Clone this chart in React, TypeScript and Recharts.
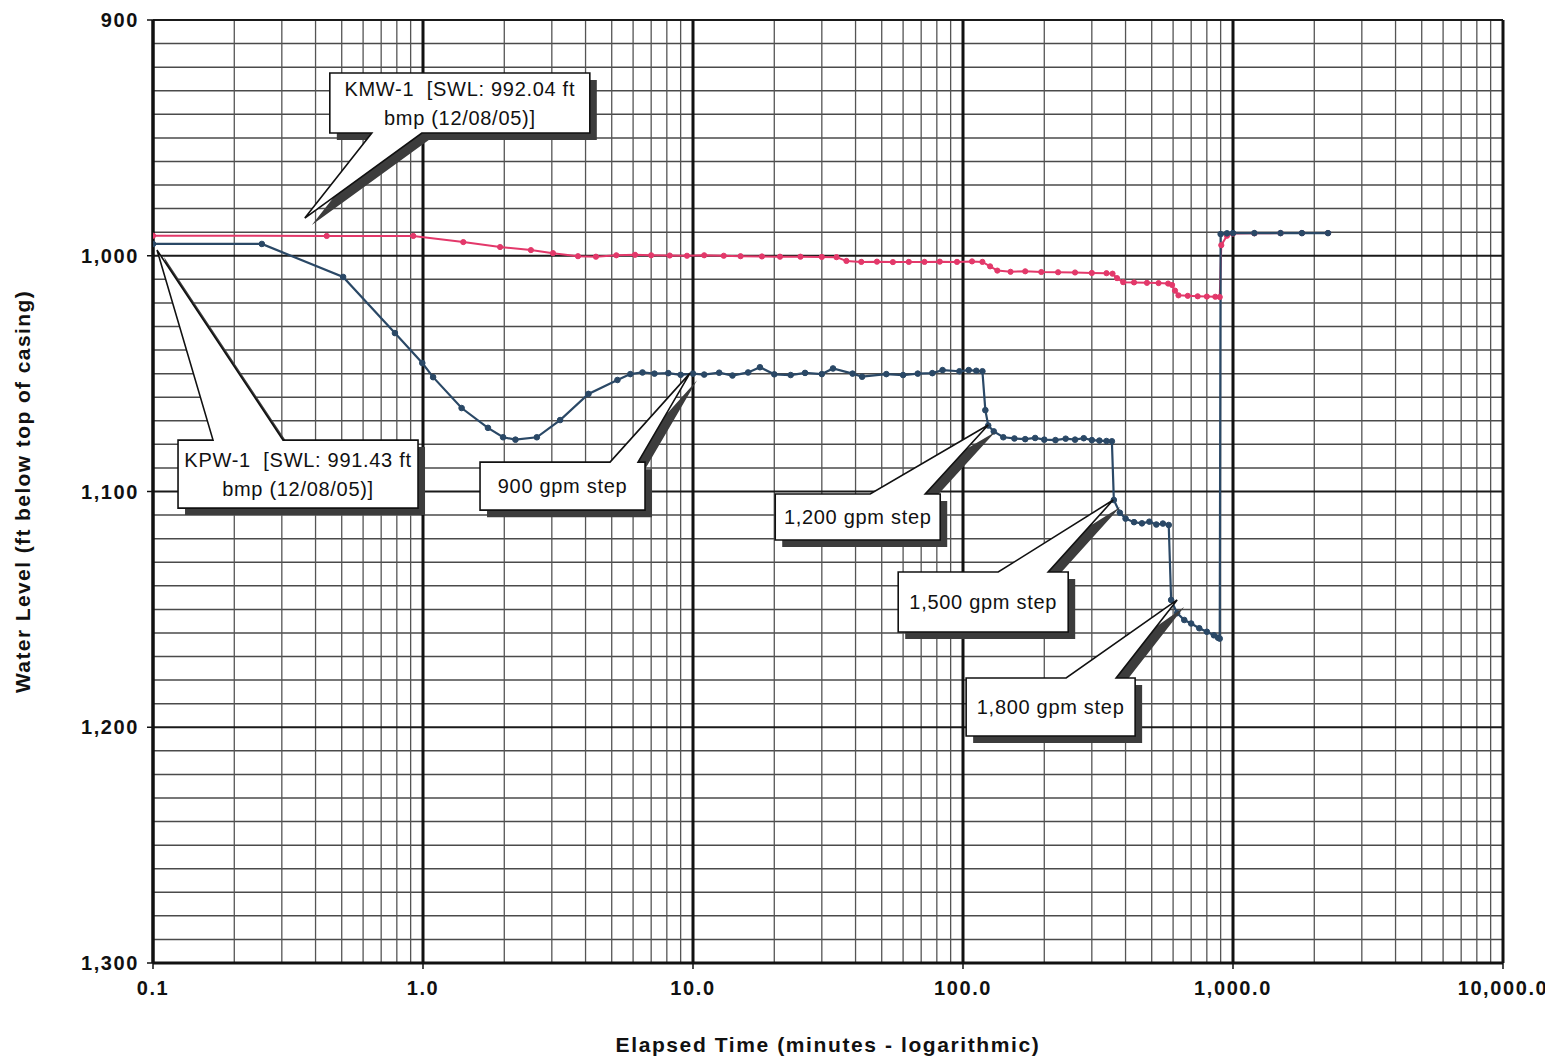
import React from 'react';
import { LineChart, Line, XAxis, YAxis, ReferenceLine, ReferenceDot, Label } from 'recharts';

// ---- Data ----
const KMW_T = [0.1, 0.44, 0.92, 1.41, 1.93, 2.51, 3.03, 3.75, 4.37, 5.2, 6.1, 7.0, 8.2, 9.5, 11, 13, 15, 18, 21, 25, 30, 34, 37, 42, 48, 55, 63, 72, 82, 95, 108, 118, 126, 134, 150, 170, 195, 225, 260, 300, 340, 358, 372, 392, 430, 480, 530, 575, 595, 610, 628, 680, 740, 800, 860, 893, 905, 950, 1000, 1200, 1500, 1800, 2248];
const KMW_LEVEL = [991.5, 991.6, 991.6, 994.2, 996.3, 997.6, 998.9, 1000.2, 1000.4, 999.8, 999.6, 999.8, 999.9, 1000, 999.8, 1000, 1000.2, 1000.3, 1000.4, 1000.4, 1000.5, 1000.6, 1002.2, 1002.6, 1002.5, 1002.7, 1002.6, 1002.6, 1002.5, 1002.6, 1002.4, 1002.6, 1004.5, 1006.3, 1006.8, 1006.6, 1006.9, 1007, 1007.1, 1007.3, 1007.4, 1007.6, 1009.5, 1011.2, 1011.3, 1011.5, 1011.6, 1011.8, 1012.4, 1014.8, 1016.8, 1017, 1017.2, 1017.3, 1017.4, 1017.5, 995.5, 991.5, 990.6, 990.5, 990.4, 990.4, 990.4];

const KPW_T = [0.1, 0.253, 0.506, 0.787, 0.994, 1.09, 1.39, 1.74, 1.98, 2.2, 2.64, 3.22, 4.1, 5.25, 5.86, 6.5, 7.2, 8.1, 9.0, 10, 11, 12.5, 14, 16, 17.7, 20, 23, 26, 30, 33, 39, 42.3, 52, 60, 68, 77, 84, 97, 105, 112, 118, 121, 124, 130, 141, 155, 170, 185, 200, 220, 240, 260, 280, 300, 320, 340, 356, 362, 381, 400, 430, 460, 490, 520, 550, 578, 590, 621, 660, 700, 750, 800, 850, 880, 893, 900, 950, 1000, 1200, 1500, 1800, 2248];
const KPW_LEVEL = [995.0, 995.0, 1009.0, 1032.8, 1045.5, 1051.5, 1064.6, 1073, 1077, 1078, 1077, 1069.7, 1058.6, 1052.7, 1050.2, 1049.5, 1050, 1049.8, 1050.5, 1050, 1050.4, 1049.6, 1050.8, 1049.5, 1047.3, 1050.3, 1050.6, 1049.7, 1050.2, 1047.8, 1050, 1051.3, 1050.2, 1050.6, 1050, 1049.8, 1048.5, 1049, 1048.5, 1048.8, 1049, 1065.5, 1072, 1074.5, 1077, 1077.5, 1077.8, 1077.3, 1078, 1078.2, 1077.6, 1078, 1077.4, 1078.2, 1078.4, 1078.6, 1078.7, 1103.6, 1109, 1111.5, 1113, 1113.5, 1112.8, 1114, 1113.6, 1114.2, 1146, 1151.6, 1154.5, 1156, 1158, 1159.5, 1161, 1162, 1162.4, 990.8, 990.5, 990.4, 990.4, 990.4, 990.4, 990.4];

const X_TICKS = [0.1, 1, 10, 100, 1000, 10000];
const X_TICK_LABELS = ['0.1', '1.0', '10.0', '100.0', '1,000.0', '10,000.0'];
const Y_TICKS = [900, 1000, 1100, 1200, 1300];
const Y_TICK_LABELS = ['900', '1,000', '1,100', '1,200', '1,300'];
const MINOR_X = [0.2, 0.3, 0.4, 0.5, 0.6, 0.7, 0.8, 0.9, 2, 3, 4, 5, 6, 7, 8, 9, 20, 30, 40, 50, 60, 70, 80, 90, 200, 300, 400, 500, 600, 700, 800, 900, 2000, 3000, 4000, 5000, 6000, 7000, 8000, 9000];
const MINOR_Y = [910, 920, 930, 940, 950, 960, 970, 980, 990, 1010, 1020, 1030, 1040, 1050, 1060, 1070, 1080, 1090, 1110, 1120, 1130, 1140, 1150, 1160, 1170, 1180, 1190, 1210, 1220, 1230, 1240, 1250, 1260, 1270, 1280, 1290];

// Callouts: tip in data units; text lines
const CALLOUT_TEXT = [
  ['KMW-1  [SWL: 992.04 ft', 'bmp (12/08/05)]'],
  ['KPW-1  [SWL: 991.43 ft', 'bmp (12/08/05)]'],
  ['900 gpm step'],
  ['1,200 gpm step'],
  ['1,500 gpm step'],
  ['1,800 gpm step'],
];
const CALLOUT_TIP_T = [0.365, 0.1035, 9.75, 124, 360, 621];
const CALLOUT_TIP_LEVEL = [984, 997.6, 1049.8, 1071.8, 1103.6, 1146];

// layout for callouts (pixel offsets from tip) — styling only
const CALLOUT_LAYOUT = [
  { dx: 25, dy: -145, w: 260, h: 60, edge: 'bottom', b1: 42, b2: 92 },
  { dx: 21, dy: 190, w: 240, h: 68, edge: 'top', b1: 35, b2: 105 },
  { dx: -210, dy: 89, w: 165, h: 48, edge: 'top', b1: 130, b2: 158 },
  { dx: -213, dy: 69, w: 165, h: 46, edge: 'top', b1: 95, b2: 150 },
  { dx: -215, dy: 72, w: 170, h: 60, edge: 'top', b1: 100, b2: 150 },
  { dx: -211, dy: 78, w: 169, h: 58, edge: 'top', b1: 100, b2: 150 },
];

const kmwData = KMW_T.map((t, i) => ({ t, level: KMW_LEVEL[i] }));
const kpwData = KPW_T.map((t, i) => ({ t, level: KPW_LEVEL[i] }));

const FONT = '"Liberation Sans", Arial, Helvetica, sans-serif';
const PINK = '#e3386a';
const NAVY = '#2a4866';

function Callout(props: any) {
  const { cx, cy, idx } = props;
  if (cx == null || cy == null) return null;
  const L = CALLOUT_LAYOUT[idx];
  const lines = CALLOUT_TEXT[idx];
  const left = cx + L.dx;
  const top = cy + L.dy;
  const right = left + L.w;
  const bottom = top + L.h;
  let pts: number[][];
  if (L.edge === 'top') {
    pts = [[left, top], [left + L.b1, top], [cx, cy], [left + L.b2, top], [right, top], [right, bottom], [left, bottom]];
  } else {
    pts = [[left, top], [right, top], [right, bottom], [left + L.b2, bottom], [cx, cy], [left + L.b1, bottom], [left, bottom]];
  }
  const s = 7;
  const shadow = pts.map(p => `${p[0] + s},${p[1] + s}`).join(' ');
  const main = pts.map(p => `${p[0]},${p[1]}`).join(' ');
  const lh = 29;
  const midY = (top + bottom) / 2;
  const startY = midY - ((lines.length - 1) * lh) / 2;
  return (
    <g>
      <polygon points={shadow} fill="#3c3c3c" />
      <polygon points={main} fill="#ffffff" stroke="#111" strokeWidth={1.6} strokeLinejoin="miter" />
      {lines.map((ln: string, i: number) => (
        <text key={i} x={(left + right) / 2} y={startY + i * lh} textAnchor="middle" dominantBaseline="central"
          fontFamily={FONT} fontSize={20} letterSpacing={0.7} fill="#111" style={{ whiteSpace: 'pre' }}>{ln}</text>
      ))}
    </g>
  );
}

const XTick = (props: any) => {
  const { x, y, payload } = props;
  const i = X_TICKS.indexOf(payload.value);
  return (
    <text x={x} y={y + 24} textAnchor="middle" fontFamily={FONT} fontWeight="bold" fontSize={20} letterSpacing={1.6} fill="#111">
      {i >= 0 ? X_TICK_LABELS[i] : ''}
    </text>
  );
};

const YTick = (props: any) => {
  const { x, y, payload } = props;
  const i = Y_TICKS.indexOf(payload.value);
  return (
    <text x={x - 6} y={y + 7} textAnchor="end" fontFamily={FONT} fontWeight="bold" fontSize={20} letterSpacing={1.6} fill="#111">
      {i >= 0 ? Y_TICK_LABELS[i] : ''}
    </text>
  );
};

export default function App() {
  return (
    <div style={{ background: '#fff' }}>
      <LineChart width={1553} height={1050} margin={{ top: 12, right: 58, left: 0, bottom: 0 }}>
        <XAxis dataKey="t" type="number" scale="log" domain={[0.1, 10000]} allowDataOverflow ticks={X_TICKS}
          tick={<XTick />} tickLine={{ stroke: '#111', strokeWidth: 1.5 }} tickSize={6} height={95}
          axisLine={{ stroke: '#111', strokeWidth: 3 }}>
          <Label position="insideBottom" offset={2}
            content={(p: any) => {
              const vb = p.viewBox;
              return (
                <text x={vb.x + vb.width / 2} y={vb.y + vb.height - 6} textAnchor="middle" fontFamily={FONT}
                  fontWeight="bold" fontSize={21} letterSpacing={1.6} fill="#111">Elapsed Time (minutes - logarithmic)</text>
              );
            }} />
        </XAxis>
        <YAxis dataKey="level" type="number" reversed domain={[900, 1300]} allowDataOverflow ticks={Y_TICKS}
          tick={<YTick />} tickLine={{ stroke: '#111', strokeWidth: 1.5 }} tickSize={6} width={145}
          axisLine={{ stroke: '#111', strokeWidth: 3 }}>
          <Label
            content={(p: any) => {
              const vb = p.viewBox;
              const cx = vb.x + 14;
              const cy = vb.y + vb.height / 2;
              return (
                <text x={cx} y={cy} transform={`rotate(-90, ${cx}, ${cy})`} textAnchor="middle" dominantBaseline="central"
                  fontFamily={FONT} fontWeight="bold" fontSize={21} letterSpacing={1.4} fill="#111">Water Level (ft below top of casing)</text>
              );
            }} />
        </YAxis>

        {MINOR_Y.map(v => (
          <ReferenceLine key={'hy' + v} y={v} stroke="#4a4a4a" strokeWidth={1.5} />
        ))}
        {MINOR_X.map(v => (
          <ReferenceLine key={'vx' + v} x={v} stroke="#555" strokeWidth={1.3} />
        ))}
        {Y_TICKS.map(v => (
          <ReferenceLine key={'my' + v} y={v} stroke="#1a1a1a" strokeWidth={2} />
        ))}
        {X_TICKS.map(v => (
          <ReferenceLine key={'mx' + v} x={v} stroke="#111" strokeWidth={3} />
        ))}

        <Line data={kmwData} dataKey="level" type="linear" stroke={PINK} strokeWidth={2}
          dot={{ r: 2.6, fill: PINK, stroke: PINK, strokeWidth: 1 }} isAnimationActive={false} />
        <Line data={kpwData} dataKey="level" type="linear" stroke={NAVY} strokeWidth={2.2}
          dot={{ r: 2.8, fill: NAVY, stroke: NAVY, strokeWidth: 1 }} isAnimationActive={false} />

        {CALLOUT_TIP_T.map((t, i) => (
          <ReferenceDot key={'c' + i} x={t} y={CALLOUT_TIP_LEVEL[i]} r={0} ifOverflow="visible"
            shape={(p: any) => <Callout {...p} idx={i} />} />
        ))}
      </LineChart>
    </div>
  );
}
